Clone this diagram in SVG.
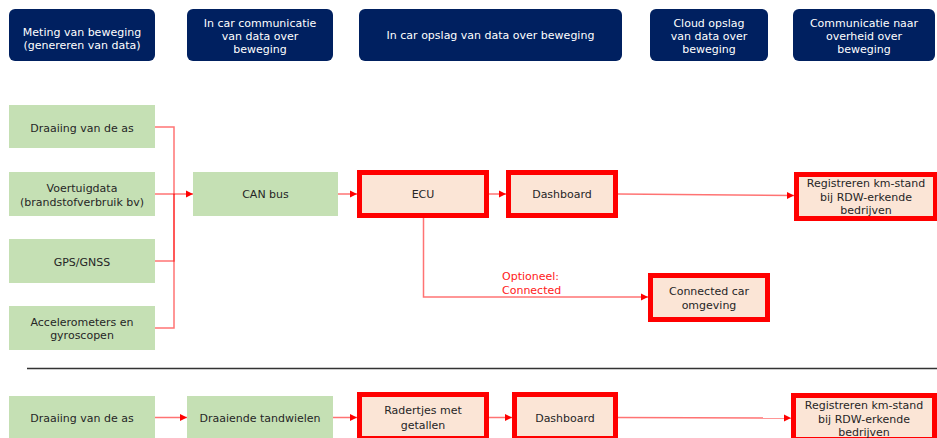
<svg xmlns="http://www.w3.org/2000/svg" width="937" height="438" viewBox="0 0 937 438">
<style>
text{font-family:"DejaVu Sans","Liberation Sans",sans-serif;font-size:11px;text-anchor:middle;fill:#262626}
.hdr rect{fill:#002060}
.hdr text{fill:#ffffff}
.g{fill:#C5E0B4}
.r{fill:#FBE5D6;stroke:#ff0000;stroke-width:5}
.c{fill:none;stroke:#ff0000;stroke-opacity:0.55;stroke-width:1.5}
.lbl{fill:#ff2020;text-anchor:start}
</style>
<defs>
<marker id="ah" markerUnits="userSpaceOnUse" markerWidth="8" markerHeight="8" refX="7" refY="4" orient="auto">
<path d="M0,0.5 L7,4 L0,7.5 Z" fill="#ff0000"/>
</marker>
</defs>
<rect width="937" height="438" fill="#ffffff"/>
<g class="hdr" id="h1"><rect x="9" y="9" width="146" height="52" rx="6"/><text x="82" y="36">Meting van beweging</text><text x="82" y="49">(genereren van data)</text></g>
<g class="hdr" id="h2"><rect x="187" y="9" width="146" height="52" rx="6"/><text x="260" y="27">In car communicatie</text><text x="260" y="40">van data over</text><text x="260" y="53">beweging</text></g>
<g class="hdr" id="h3"><rect x="359" y="9" width="263" height="52" rx="6"/><text x="490.5" y="39">In car opslag van data over beweging</text></g>
<g class="hdr" id="h4"><rect x="650" y="9" width="118" height="52" rx="6"/><text x="709" y="27">Cloud opslag</text><text x="709" y="40">van data over</text><text x="709" y="53">beweging</text></g>
<g class="hdr" id="h5"><rect x="793" y="9" width="142" height="52" rx="6"/><text x="864" y="27">Communicatie naar</text><text x="864" y="40">overheid over</text><text x="864" y="53">beweging</text></g>

<g id="connectors">
<polyline class="c" points="155,127 174,127 174,194"/>
<polyline class="c" points="155,194 174,194"/>
<polyline class="c" points="155,261 174,261 174,194"/>
<polyline class="c" points="155,328 174,328 174,194"/>
<line class="c" x1="174" y1="194" x2="193" y2="194" marker-end="url(#ah)"/>
<line class="c" x1="338" y1="194" x2="357" y2="194" marker-end="url(#ah)"/>
<line class="c" x1="489" y1="194" x2="506" y2="194" marker-end="url(#ah)"/>
<line class="c" x1="618" y1="194" x2="794" y2="195.5" marker-end="url(#ah)"/>
<polyline class="c" points="423.5,218 423.5,297 648,297" marker-end="url(#ah)"/>
<line class="c" x1="155" y1="417.5" x2="187" y2="417.5" marker-end="url(#ah)"/>
<line class="c" x1="333" y1="417.5" x2="357" y2="417.5" marker-end="url(#ah)"/>
<line class="c" x1="489" y1="417.5" x2="512" y2="417.5" marker-end="url(#ah)"/>
<line class="c" x1="617" y1="417.5" x2="791" y2="418" marker-end="url(#ah)"/>
<text class="lbl" x="502" y="280">Optioneel:</text>
<text class="lbl" x="502" y="293.5">Connected</text>
</g>

<g id="n_draaiing"><rect class="g" x="9" y="105" width="146" height="43"/><text x="82" y="132">Draaiing van de as</text></g>
<g id="n_voertuig"><rect class="g" x="9" y="172" width="146" height="44"/><text x="82" y="191.5">Voertuigdata</text><text x="82" y="205.5">(brandstofverbruik bv)</text></g>
<g id="n_gps"><rect class="g" x="9" y="239" width="146" height="44"/><text x="82" y="265.5">GPS/GNSS</text></g>
<g id="n_accel"><rect class="g" x="9" y="306" width="146" height="44"/><text x="82" y="325.5">Accelerometers en</text><text x="82" y="339">gyroscopen</text></g>
<g id="n_can"><rect class="g" x="193" y="172" width="145" height="44"/><text x="265.5" y="198">CAN bus</text></g>
<g id="n_ecu"><rect class="r" x="359.5" y="172.5" width="127" height="43"/><text x="423" y="198">ECU</text></g>
<g id="n_dash"><rect class="r" x="508.5" y="172.5" width="107" height="43"/><text x="562" y="198">Dashboard</text></g>
<g id="n_reg"><rect class="r" x="796.5" y="174.5" width="139" height="44"/><text x="866" y="187">Registreren km-stand</text><text x="866" y="200.5">bij RDW-erkende</text><text x="866" y="214">bedrijven</text></g>
<g id="n_conn"><rect class="r" x="650.5" y="275.5" width="117" height="44"/><text x="709" y="295">Connected car</text><text x="709" y="309">omgeving</text></g>

<line id="separator" x1="27" y1="368.5" x2="937" y2="368.5" stroke="#333333" stroke-width="1.5"/>

<g id="b_draaiing"><rect class="g" x="9" y="396" width="146" height="44"/><text x="82" y="421.5">Draaiing van de as</text></g>
<g id="b_tand"><rect class="g" x="187" y="396" width="146" height="44"/><text x="260" y="421.5">Draaiende tandwielen</text></g>
<g id="b_rad"><rect class="r" x="359.5" y="394.5" width="127" height="44"/><text x="423" y="414">Radertjes met</text><text x="423" y="429">getallen</text></g>
<g id="b_dash"><rect class="r" x="514.5" y="394.5" width="101" height="44"/><text x="565" y="421.5">Dashboard</text></g>
<g id="b_reg"><rect class="r" x="793.5" y="395.5" width="141" height="44"/><text x="864" y="409">Registreren km-stand</text><text x="864" y="423">bij RDW-erkende</text><text x="864" y="436">bedrijven</text></g>
</svg>
